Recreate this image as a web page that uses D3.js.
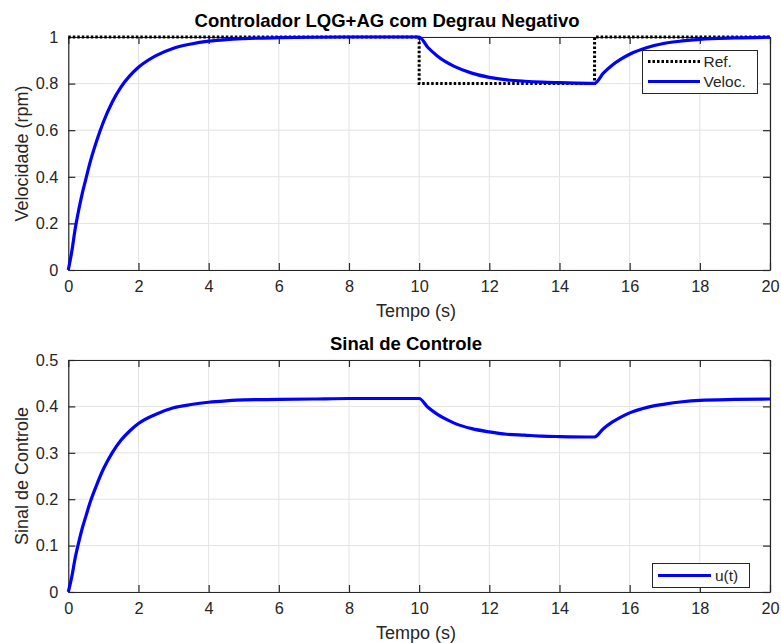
<!DOCTYPE html>
<html>
<head>
<meta charset="utf-8">
<script src="https://cdn.jsdelivr.net/npm/d3@7"></script>
<style>
  html, body { margin: 0; padding: 0; background: #fff; }
  svg { display: block; font-family: "Liberation Sans", Arial, Helvetica, sans-serif; }
</style>
</head>
<body>
<svg id="chart" width="781" height="643"></svg>
<script>
// Simulation time samples (s)
const time = [0, 0.1, 0.2, 0.3, 0.4, 0.5, 0.6, 0.8, 1.0, 1.25, 1.5, 1.75, 2.0, 2.5, 3.0, 3.5, 4.0, 4.5, 5.0, 6.0, 7.0, 8.0, 10.0,
  10.25, 10.5, 10.75, 11.0, 11.5, 12.0, 12.5, 13.0, 13.5, 14.0, 15.0,
  15.25, 15.5, 15.75, 16.0, 16.5, 17.0, 17.5, 18.0, 19.0, 20.0];

// Measured speed (rpm)
const velocity = [0, 0.08, 0.18, 0.26, 0.33, 0.39, 0.45, 0.55, 0.635, 0.72, 0.785, 0.833, 0.870, 0.920, 0.952, 0.970, 0.982, 0.989, 0.993, 0.997, 0.999, 1.0, 1.0,
  0.955, 0.921, 0.894, 0.874, 0.845, 0.827, 0.816, 0.810, 0.806, 0.804, 0.801,
  0.845, 0.879, 0.905, 0.926, 0.955, 0.973, 0.983, 0.990, 0.996, 0.999];

// Control signal
const control = [0, 0.033, 0.075, 0.108, 0.138, 0.163, 0.188, 0.229, 0.265, 0.300, 0.327, 0.347, 0.363, 0.383, 0.397, 0.404, 0.409, 0.412, 0.414, 0.415, 0.416, 0.417, 0.417,
  0.398, 0.384, 0.373, 0.364, 0.352, 0.345, 0.340, 0.338, 0.336, 0.335, 0.334,
  0.352, 0.366, 0.377, 0.386, 0.398, 0.405, 0.410, 0.413, 0.415, 0.416];

// Reference (negative step between 10 s and 15 s)
const refTime = [0, 10, 10, 15, 15, 20];
const refValue = [1, 1, 0.8, 0.8, 1, 1];

const xTicks = [0, 2, 4, 6, 8, 10, 12, 14, 16, 18, 20];
const yTicksTop = [0, 0.2, 0.4, 0.6, 0.8, 1];
const yTicksBottom = [0, 0.1, 0.2, 0.3, 0.4, 0.5];

const svg = d3.select("#chart");
const axisColor = "#262626";
const gridColor = "#e3e3e3";
const blue = "#0000ff";

function panel(opts) {
  const x = d3.scaleLinear().domain([0, 20]).range([68.3, 770]);
  const y = d3.scaleLinear().domain(opts.yDomain).range([opts.bottom, opts.top]);
  const g = svg.append("g");

  // grid
  g.append("g").selectAll("line").data(xTicks).join("line")
    .attr("x1", d => x(d)).attr("x2", d => x(d))
    .attr("y1", opts.top).attr("y2", opts.bottom)
    .attr("stroke", gridColor).attr("stroke-width", 1);
  g.append("g").selectAll("line").data(opts.yTicks).join("line")
    .attr("x1", x.range()[0]).attr("x2", x.range()[1])
    .attr("y1", d => y(d)).attr("y2", d => y(d))
    .attr("stroke", gridColor).attr("stroke-width", 1);

  // box axes with inward ticks
  const tickLen = 7;
  const fmt = d => String(d);
  const xb = g.append("g").attr("transform", `translate(0,${opts.bottom})`)
    .call(d3.axisBottom(x).tickValues(xTicks).tickSizeInner(-tickLen).tickSizeOuter(0).tickPadding(10.5).tickFormat(fmt));
  const xt = g.append("g").attr("transform", `translate(0,${opts.top})`)
    .call(d3.axisTop(x).tickValues(xTicks).tickSizeInner(-tickLen).tickSizeOuter(0).tickFormat(""));
  const yl = g.append("g").attr("transform", `translate(${x.range()[0]},0)`)
    .call(d3.axisLeft(y).tickValues(opts.yTicks).tickSizeInner(-tickLen).tickSizeOuter(0).tickPadding(10).tickFormat(fmt));
  const yr = g.append("g").attr("transform", `translate(${x.range()[1]},0)`)
    .call(d3.axisRight(y).tickValues(opts.yTicks).tickSizeInner(-tickLen).tickSizeOuter(0).tickFormat(""));
  [xb, xt, yl, yr].forEach(a => {
    a.select(".domain").attr("stroke", axisColor).attr("stroke-width", 1.2);
    a.selectAll(".tick line").attr("stroke", axisColor).attr("stroke-width", 1.2);
    a.selectAll(".tick text").attr("fill", axisColor).style("font-size", "16.3px");
  });

  // axis titles
  g.append("text").attr("x", 416).attr("y", opts.bottom + 47)
    .attr("text-anchor", "middle").attr("fill", axisColor).style("font-size", "18px")
    .text("Tempo (s)");
  g.append("text").attr("transform", `translate(28,${(opts.top + opts.bottom) / 2}) rotate(-90)`)
    .attr("text-anchor", "middle").attr("fill", axisColor).style("font-size", "18px")
    .text(opts.yLabel);
  g.append("text").attr("x", opts.titleX).attr("y", opts.top - 10)
    .attr("text-anchor", "middle").attr("fill", "#000").style("font-size", "18.5px").style("font-weight", "bold")
    .text(opts.title);

  return { g, x, y };
}

// Upper panel: speed response
const upper = panel({ top: 37, bottom: 270, yDomain: [0, 1], yTicks: yTicksTop, titleX: 387,
  yLabel: "Velocidade (rpm)", title: "Controlador LQG+AG com Degrau Negativo" });

const refLine = d3.line().x(i => upper.x(refTime[i])).y(i => upper.y(refValue[i]));
upper.g.append("path").datum(d3.range(refTime.length)).attr("d", refLine)
  .attr("fill", "none").attr("stroke", "#000").attr("stroke-width", 3)
  .attr("stroke-dasharray", "2.5,2");

const velLine = d3.line().x(i => upper.x(time[i])).y(i => upper.y(velocity[i])).curve(d3.curveMonotoneX);
upper.g.append("path").datum(d3.range(time.length)).attr("d", velLine)
  .attr("fill", "none").attr("stroke", blue).attr("stroke-width", 3.2).attr("stroke-linejoin", "round");

// legend (upper)
const lg1 = upper.g.append("g");
lg1.append("rect").attr("x", 642.5).attr("y", 50.5).attr("width", 115).attr("height", 43)
  .attr("fill", "#fff").attr("stroke", "#262626").attr("stroke-width", 1);
lg1.append("line").attr("x1", 648).attr("x2", 700).attr("y1", 61.5).attr("y2", 61.5)
  .attr("stroke", "#000").attr("stroke-width", 3).attr("stroke-dasharray", "2.5,2");
lg1.append("line").attr("x1", 648).attr("x2", 700).attr("y1", 81.5).attr("y2", 81.5)
  .attr("stroke", blue).attr("stroke-width", 3.2);
lg1.append("text").attr("x", 703.5).attr("y", 67).attr("fill", axisColor).style("font-size", "15.5px").text("Ref.");
lg1.append("text").attr("x", 703.5).attr("y", 87.3).attr("fill", axisColor).style("font-size", "15.5px").text("Veloc.");

// Lower panel: control signal
const lower = panel({ top: 360, bottom: 592, yDomain: [0, 0.5], yTicks: yTicksBottom, titleX: 406,
  yLabel: "Sinal de Controle", title: "Sinal de Controle" });

const uLine = d3.line().x(i => lower.x(time[i])).y(i => lower.y(control[i])).curve(d3.curveMonotoneX);
lower.g.append("path").datum(d3.range(time.length)).attr("d", uLine)
  .attr("fill", "none").attr("stroke", blue).attr("stroke-width", 3.2).attr("stroke-linejoin", "round");

// legend (lower)
const lg2 = lower.g.append("g");
lg2.append("rect").attr("x", 652.5).attr("y", 563.5).attr("width", 97).attr("height", 24)
  .attr("fill", "#fff").attr("stroke", "#262626").attr("stroke-width", 1);
lg2.append("line").attr("x1", 658).attr("x2", 711).attr("y1", 575.5).attr("y2", 575.5)
  .attr("stroke", blue).attr("stroke-width", 3.2);
lg2.append("text").attr("x", 715).attr("y", 581).attr("fill", axisColor).style("font-size", "15.5px").text("u(t)");
</script>
</body>
</html>
